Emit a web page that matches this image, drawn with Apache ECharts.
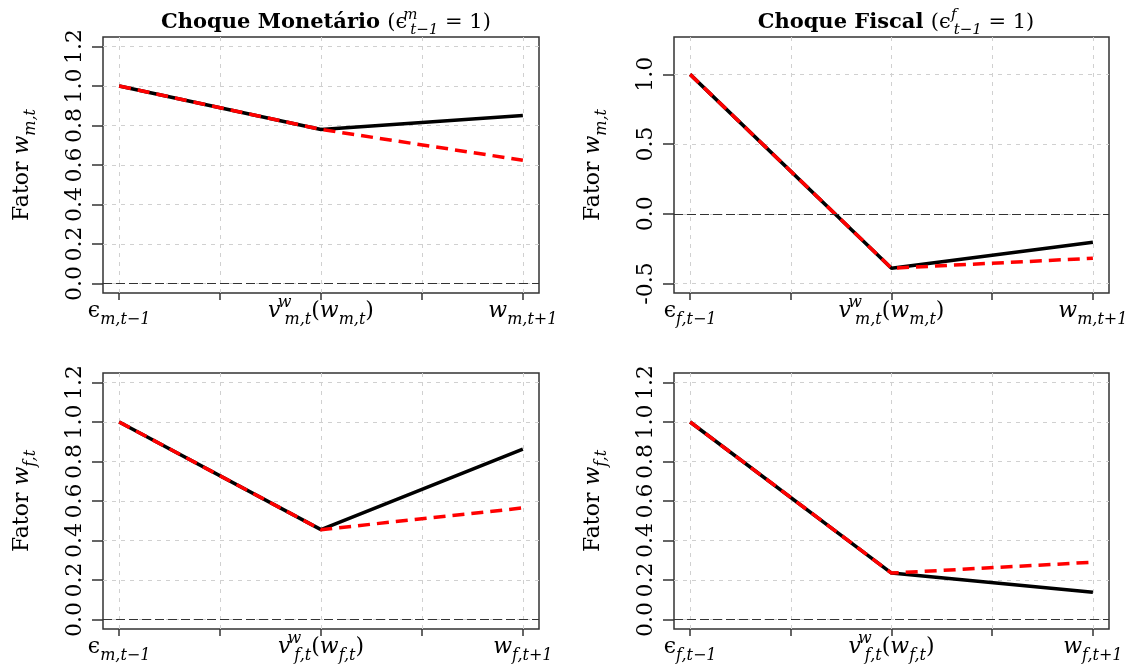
<!DOCTYPE html>
<html>
<head>
<meta charset="utf-8">
<script src="https://cdn.jsdelivr.net/npm/echarts@6/dist/echarts.min.js"></script>
<style>
  html, body { margin: 0; padding: 0; background: #fff; }
  #chart { width: 1132px; height: 664px; }
</style>
</head>
<body>
<div id="chart"></div>
<script>
// Positions of the three steps on the horizontal axis
const steps = [1, 2, 3];

// Top-left: monetary shock, factor w_m
const monWmSolid  = [1.00, 0.78, 0.85];
const monWmDashed = [1.00, 0.78, 0.624];
// Top-right: fiscal shock, factor w_m
const fisWmSolid  = [1.00, -0.39, -0.204];
const fisWmDashed = [1.00, -0.39, -0.319];
// Bottom-left: monetary shock, factor w_f
const monWfSolid  = [1.00, 0.455, 0.863];
const monWfDashed = [1.00, 0.455, 0.565];
// Bottom-right: fiscal shock, factor w_f
const fisWfSolid  = [1.00, 0.235, 0.138];
const fisWfDashed = [1.00, 0.235, 0.29];

// Tick values and ranges
const xMinorTicks = [1, 1.5, 2, 2.5, 3];
const yTicksPos = [0, 0.2, 0.4, 0.6, 0.8, 1.0, 1.2];
const yTicksMixed = [-0.5, 0, 0.5, 1.0];

// Tick labels (rich-text markup for sub/superscripts)
const xLabelsMonWm = ['{g|ϵ}{sb|m,t−1}', '{i|v}{sp|w}{sb|m,t}{n|(}{i|w}{sb|m,t}{n|)}', '{i|w}{sb|m,t+1}'];
const xLabelsFisWm = ['{g|ϵ}{sb|f,t−1}', '{i|v}{sp|w}{sb|m,t}{n|(}{i|w}{sb|m,t}{n|)}', '{i|w}{sb|m,t+1}'];
const xLabelsMonWf = ['{g|ϵ}{sb|m,t−1}', '{i|v}{sp|w}{sb|f,t}{n|(}{i|w}{sb|f,t}{n|)}', '{i|w}{sb|f,t+1}'];
const xLabelsFisWf = ['{g|ϵ}{sb|f,t−1}', '{i|v}{sp|w}{sb|f,t}{n|(}{i|w}{sb|f,t}{n|)}', '{i|w}{sb|f,t+1}'];
const yNameWm = '{n|Fator }{i|w}{sb|m,t}';
const yNameWf = '{n|Fator }{i|w}{sb|f,t}';
const titleMon = '{b|Choque Monetário }{n|(}{g|ϵ}{sp|m}{sb|t−1}{n| = 1)}';
const titleFis = '{b|Choque Fiscal }{n|(}{g|ϵ}{sp|f}{sb|t−1}{n| = 1)}';

const FONT = 'DejaVu Serif';
// Rich styles: sp is a zero-width superscript so the following subscript stacks under it
function mathStyles(size, line, subSize, subLine, supShift) {
  const base = { fontFamily: FONT, color: '#000', fontWeight: 'normal' };
  return {
    b:  Object.assign({}, base, { fontWeight: 'bold', fontSize: size, lineHeight: line }),
    n:  Object.assign({}, base, { fontSize: size, lineHeight: line }),
    g:  Object.assign({}, base, { fontSize: size, lineHeight: line }),
    i:  Object.assign({}, base, { fontStyle: 'italic', fontSize: size, lineHeight: line }),
    sb: Object.assign({}, base, { fontStyle: 'italic', fontSize: subSize, lineHeight: subLine, verticalAlign: 'bottom' }),
    sp: Object.assign({}, base, { fontStyle: 'italic', fontSize: subSize, lineHeight: subLine, verticalAlign: 'top',
                                  width: 0, align: 'left', padding: [0, 0, 0, supShift] })
  };
}
const richMath = mathStyles(22, 33, 16, 13, 4);
const richTitle = mathStyles(21, 30, 15, 12, 3);

// Panel boxes in pixels
const panels = [
  { left: 103, top: 37,  width: 436, height: 256, yMin: -0.048, yMax: 1.248, yTicks: yTicksPos,   xLabels: xLabelsMonWm, yName: yNameWm, solid: monWmSolid, dashed: monWmDashed },
  { left: 674, top: 37,  width: 435, height: 256, yMin: -0.568, yMax: 1.268, yTicks: yTicksMixed, xLabels: xLabelsFisWm, yName: yNameWm, solid: fisWmSolid, dashed: fisWmDashed },
  { left: 103, top: 373, width: 436, height: 256, yMin: -0.048, yMax: 1.248, yTicks: yTicksPos,   xLabels: xLabelsMonWf, yName: yNameWf, solid: monWfSolid, dashed: monWfDashed },
  { left: 674, top: 373, width: 435, height: 256, yMin: -0.048, yMax: 1.248, yTicks: yTicksPos,   xLabels: xLabelsFisWf, yName: yNameWf, solid: fisWfSolid, dashed: fisWfDashed }
];

const gridLine = { show: true, lineStyle: { color: '#d0d0d0', type: [4, 5], width: 1 } };

const grids = [], xAxes = [], yAxes = [], series = [];
panels.forEach((p, k) => {
  grids.push({ left: p.left, top: p.top, width: p.width, height: p.height,
    show: true, borderColor: '#333', borderWidth: 1.5, backgroundColor: 'transparent',
    containLabel: false, outerBoundsMode: 'none' });
  xAxes.push({
    type: 'value', gridIndex: k, min: 0.92, max: 3.08,
    axisLine: { show: false, onZero: false },
    axisTick: { show: true, length: 7, inside: false, customValues: xMinorTicks, lineStyle: { color: '#333', width: 1.5 } },
    splitLine: gridLine,
    axisLabel: {
      show: true, margin: 2, customValues: steps,
      formatter: v => p.xLabels[steps.indexOf(Math.round(v))] || '',
      rich: richMath
    }
  });
  yAxes.push({
    type: 'value', gridIndex: k, min: p.yMin, max: p.yMax,
    axisLine: { show: false, onZero: false },
    axisTick: { show: true, length: 11, customValues: p.yTicks, lineStyle: { color: '#333', width: 1.5 } },
    splitLine: gridLine,
    axisLabel: {
      show: true, rotate: 90, margin: 17, customValues: p.yTicks,
      fontFamily: FONT, fontSize: 22, color: '#000',
      formatter: v => v.toFixed(1)
    },
    name: p.yName, nameLocation: 'middle', nameRotate: 90, nameGap: 64,
    nameTextStyle: { rich: richMath }
  });
  const toPts = arr => steps.map((x, j) => [x, arr[j]]);
  series.push({
    type: 'line', xAxisIndex: k, yAxisIndex: k, data: toPts(p.solid),
    showSymbol: false, symbol: 'none', silent: true, z: 3,
    lineStyle: { color: '#000', width: 3.5, type: 'solid' },
    markLine: {
      silent: true, symbol: ['none', 'none'], label: { show: false },
      lineStyle: { color: '#333', type: [9, 4], width: 1 },
      data: [{ yAxis: 0 }]
    }
  });
  series.push({
    type: 'line', xAxisIndex: k, yAxisIndex: k, data: toPts(p.dashed),
    showSymbol: false, symbol: 'none', silent: true, z: 4,
    lineStyle: { color: '#ff0000', width: 3.5, type: [12, 7] }
  });
});

const chart = echarts.init(document.getElementById('chart'), null, { renderer: 'canvas' });
chart.setOption({
  animation: false,
  backgroundColor: '#fff',
  title: [
    { text: titleMon, left: 321, textAlign: 'center', top: 3, textStyle: { fontWeight: 'normal', rich: richTitle } },
    { text: titleFis, left: 891, textAlign: 'center', top: 3, textStyle: { fontWeight: 'normal', rich: richTitle } }
  ],
  grid: grids,
  xAxis: xAxes,
  yAxis: yAxes,
  series: series
});
</script>
</body>
</html>
